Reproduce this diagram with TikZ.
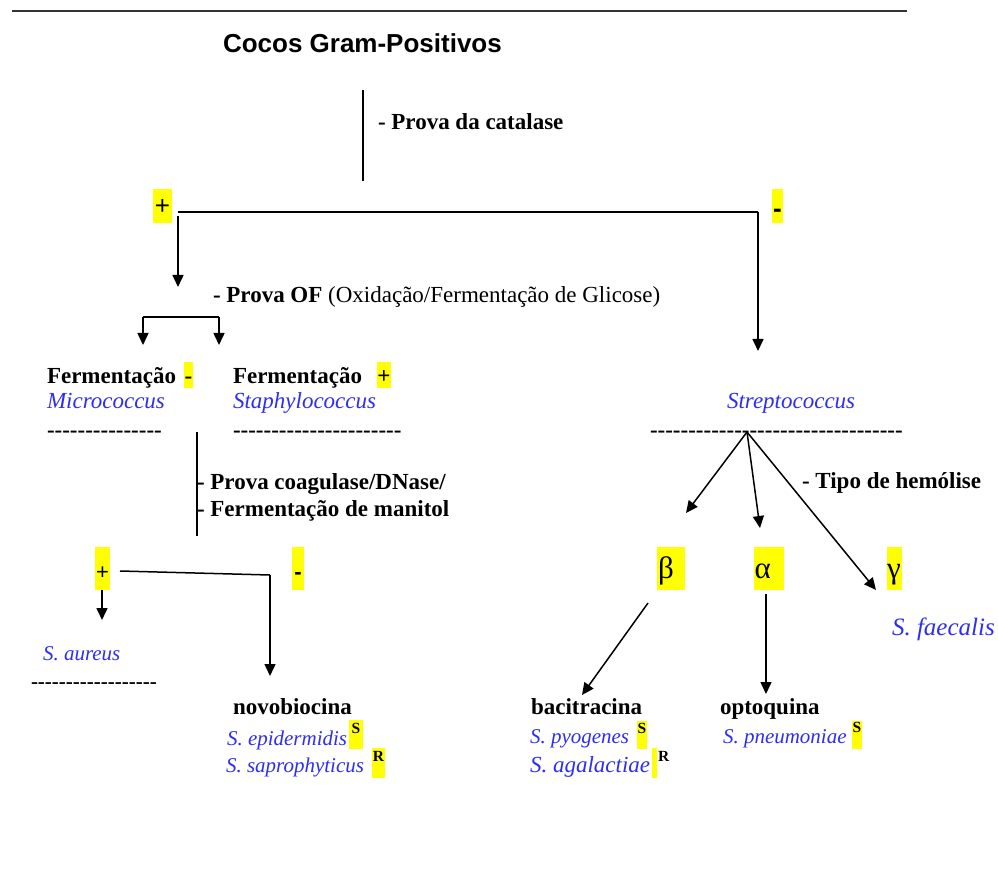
\documentclass[tikz,border=0pt]{standalone}
\usepackage{fontspec}
\setmainfont{Liberation Serif}
\newfontfamily\arialf{Liberation Sans}
\usetikzlibrary{arrows.meta}
\definecolor{spblue}{RGB}{45,45,245}
\definecolor{hly}{RGB}{255,255,0}
\newcommand\fsz[1]{\fontsize{#1}{#1}\selectfont}
\ExplSyntaxOn
\NewDocumentCommand\hyrow{m}{\prg_replicate:nn{#1}{-\kern0pt}}
\ExplSyntaxOff
\begin{document}
\begin{tikzpicture}[x=1pt,y=-1pt,
 txt/.style={anchor=base west, inner sep=0pt, outer sep=0pt},
 bt/.style={txt, font=\fsz{23}\bfseries},
 sp/.style={txt, font=\fsz{23}\itshape, text=spblue},
 sps/.style={txt, font=\fsz{21}\itshape, text=spblue},
 hl/.style={fill=hly, inner sep=0pt, outer sep=0pt, anchor=north west},
 sup/.style={hl, font=\fsz{15.5}\bfseries},
 greek/.style={hl, font=\fsz{31}, text height=31pt, text depth=12pt},
 ln/.style={line width=1.5pt},
 arr/.style={ln, -{Triangle[length=12pt,width=11pt]}},
 dashrow/.style={txt, font=\fsz{23}\bfseries},
]
\useasboundingbox (0,0) rectangle (998,882);

% top rule
\coordinate (ruleL) at (12,11);
\coordinate (ruleR) at (907,11);
\draw[line width=2pt, black!80] (ruleL) -- (ruleR);

% title and catalase
\node[txt, font=\arialf\fsz{26}\bfseries] (title) at (223,53) {Cocos Gram-Positivos};
\node[bt] (catalase) at (378,130) {- Prova da catalase};
\coordinate (catT) at (363,90);
\coordinate (catB) at (363,181);
\draw[ln] (catT) -- (catB);

% + / - after catalase
\node[hl, minimum width=19pt, text height=25.5pt, text depth=8.5pt, font=\arialf\fsz{26}] (plusA) at (153,189) {+};
\node[hl, minimum width=11pt, text height=28.4pt, text depth=5.6pt, font=\arialf\fsz{26}\bfseries] (minusA) at (772,189) {-};
\coordinate (hL) at (178,212);
\coordinate (hR) at (758,212);
\coordinate (hLd) at (178,216);
\coordinate (ofTip) at (178,287);
\coordinate (strTip) at (758,351);
\draw[ln] (hL) -- (hR);
\draw[arr] (hLd) -- (ofTip);
\draw[arr] (hR) -- (strTip);

% Prova OF
\node[txt, font=\fsz{23}] (of) at (213,303) {\textbf{- Prova OF} (Oxidação/Fermentação de Glicose)};
\coordinate (brL) at (143,317);
\coordinate (brR) at (219,317);
\coordinate (brLt) at (143,345);
\coordinate (brRt) at (219,345);
\draw[arr] (brL) -- (brLt);
\draw[arr] (brR) -- (brRt);
\draw[ln] (brL) -- (brR);

% Fermentation results
\node[bt] (fermA) at (47,383) {Fermentação};
\node[hl, minimum width=9pt, text height=21pt, text depth=5pt, font=\fsz{23}\bfseries] (minusF) at (184,362) {-};
\node[bt] (fermB) at (233,383) {Fermentação};
\node[hl, minimum width=14pt, text height=21pt, text depth=5pt, font=\fsz{23}\bfseries] (plusF) at (377,362) {+};
\node[sp] (micro) at (47,408) {Micrococcus};
\node[sp] (staph) at (233,408) {Staphylococcus};
\node[dashrow] (dashM) at (47,437.5) {\hyrow{15}};
\node[dashrow] (dashS) at (233,437.5) {\hyrow{22}};

% coagulase
\coordinate (coT) at (197,432);
\coordinate (coB) at (197,536);
\draw[ln] (coT) -- (coB);
\node[bt] (coag1) at (197,489) {- Prova coagulase/DNase/};
\node[bt] (coag2) at (197,516) {- Fermentação de manitol};
\node[hl, minimum width=15pt, text height=32.7pt, text depth=10.3pt, font=\arialf\fsz{22}] (plusC) at (95,547) {+};
\node[hl, minimum width=12pt, text height=32.3pt, text depth=10.7pt, font=\arialf\fsz{22}\bfseries] (minusC) at (292,547) {-};
\coordinate (cL) at (120,571);
\coordinate (cR) at (270,575);
\coordinate (novTip) at (270,676);
\draw[ln] (cL) -- (cR);
\draw[arr] (cR) -- (novTip);
\coordinate (aurS) at (102,590);
\coordinate (aurTip) at (102,620);
\draw[arr] (aurS) -- (aurTip);

\node[sps] (aureus) at (43,660) {S. aureus};
\node[txt, font=\fsz{21}\bfseries] (dashA) at (31,688) {\hyrow{18}};

\node[bt] (novo) at (233,714) {novobiocina};
\node[sps] (epi) at (227,745) {S. epidermidis};
\node[sup, minimum width=14pt, text height=13.5pt, text depth=15.5pt] (sEpi) at (349,720) {S};
\node[sps] (sap) at (226,772) {S. saprophyticus};
\node[sup, minimum width=13pt, text height=13pt, text depth=17pt] (rSap) at (372,748) {R};

% Streptococcus branch
\node[sp] (strep) at (727,408) {Streptococcus};
\node[dashrow] (dashR) at (650,437.5) {\hyrow{33}};
\coordinate (fan) at (747,432);
\coordinate (betaTip) at (686,513);
\coordinate (alphaTip) at (760,528);
\coordinate (gammaTip) at (876,590);
\draw[arr] (fan) -- (betaTip);
\draw[arr] (fan) -- (alphaTip);
\draw[arr] (fan) -- (gammaTip);
\node[bt] (tipo) at (802,488) {- Tipo de hemólise};

\node[greek] (beta) at (657,547) {\makebox[28pt][l]{\kern1pt β}};
\node[greek] (alpha) at (754,547) {\makebox[30pt][l]{\kern0.5pt α}};
\node[greek] (gamma) at (887,547) {\makebox[15pt][l]{γ}};
\node[txt, font=\fsz{25}\itshape, text=spblue] (faec) at (892,635) {S. faecalis};

\coordinate (bS) at (648,603);
\coordinate (bT) at (582,695);
\draw[arr] (bS) -- (bT);
\coordinate (aS) at (766,594);
\coordinate (aT) at (766,694);
\draw[arr] (aS) -- (aT);

\node[bt] (baci) at (531,714) {bacitracina};
\node[sps] (pyo) at (530,743) {S. pyogenes};
\node[sup, minimum width=10pt, text height=12pt, text depth=16pt] (sPyo) at (637,721) {S};
\node[sp] (aga) at (530,772) {S. agalactiae};
\node[hl, minimum width=5pt, minimum height=30pt] (barAga) at (652,748) {};
\node[txt, font=\fsz{15.5}\bfseries] (rAga) at (658,761) {R};

\node[bt] (opto) at (720,714) {optoquina};
\node[sps] (pneu) at (723,743) {S. pneumoniae};
\node[sup, minimum width=10pt, text height=11.5pt, text depth=16.5pt] (sPne) at (852,721) {S};
\end{tikzpicture}
\end{document}
